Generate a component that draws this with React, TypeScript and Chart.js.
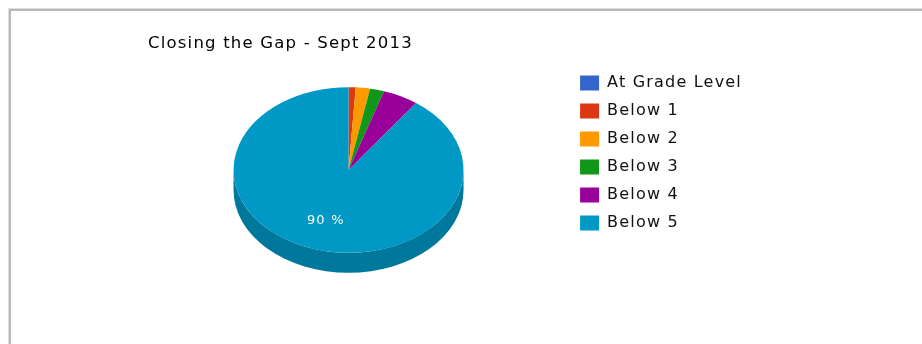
import React, { useEffect, useRef } from "react";
import { Chart, registerables } from "chart.js";

Chart.register(...registerables);

// ---- data ----
const titleText = "Closing the Gap - Sept 2013";
const categories = ["At Grade Level", "Below 1", "Below 2", "Below 3", "Below 4", "Below 5"];
const values = [0, 1, 2, 2, 5, 90];
const colors = ["#3366cc", "#dc3912", "#ff9900", "#109618", "#990099", "#0099c6"];
const sideColors = ["#24478f", "#9a280d", "#b36b00", "#0b6911", "#6b006b", "#00789c"];

// ---- look ----
const FONT = "'DejaVu Sans', sans-serif";
const LETTER_SPACING = "1.2px";
const TILT = 0.72; // vertical squash of the pie
const DEPTH = 20; // thickness of the 3D side
const LABEL_RADIUS = 0.64;
const LABEL_MIN_FRACTION = 0.08;
const AREA_GAP = 19; // space between pie area and legend

const setSpacing = (chart: any) => {
  try {
    (chart.ctx as any).letterSpacing = LETTER_SPACING;
  } catch (e) {}
};

const pie3d = {
  id: "pie3d",
  beforeUpdate(chart: any) {
    setSpacing(chart);
  },
  afterLayout(chart: any) {
    chart.chartArea.right -= AREA_GAP;
    chart.chartArea.width -= AREA_GAP;
  },
  beforeDraw(chart: any) {
    setSpacing(chart);
  },
  beforeDatasetsDraw(chart: any) {
    const arcs = chart.getDatasetMeta(0).data;
    const ctx = chart.ctx;
    ctx.save();
    if (!arcs.length) return;
    const a0 = arcs[0];
    const cx = a0.x;
    const cy = a0.y;
    const R = a0.outerRadius;
    const ry = R * TILT;
    arcs.forEach((arc: any, i: number) => {
      const s = arc.startAngle;
      const e = arc.endAngle;
      if (e - s <= 0) return;
      for (let k = -1; k <= 1; k++) {
        const lo = Math.max(s, 2 * Math.PI * k);
        const hi = Math.min(e, 2 * Math.PI * k + Math.PI);
        if (hi <= lo) continue;
        ctx.beginPath();
        ctx.ellipse(cx, cy, R, ry, 0, lo, hi);
        ctx.ellipse(cx, cy + DEPTH, R, ry, 0, hi, lo, true);
        ctx.closePath();
        ctx.fillStyle = sideColors[i];
        ctx.fill();
      }
    });
    ctx.translate(cx, cy);
    ctx.scale(1, TILT);
    ctx.translate(-cx, -cy);
  },
  afterDatasetsDraw(chart: any) {
    const ctx = chart.ctx;
    ctx.restore();
    const arcs = chart.getDatasetMeta(0).data;
    if (!arcs.length) return;
    const total = values.reduce((a, b) => a + b, 0);
    ctx.save();
    ctx.font = `13px ${FONT}`;
    ctx.fillStyle = "#ffffff";
    ctx.textAlign = "center";
    ctx.textBaseline = "middle";
    arcs.forEach((arc: any, i: number) => {
      const frac = values[i] / total;
      if (frac < LABEL_MIN_FRACTION) return;
      const mid = (arc.startAngle + arc.endAngle) / 2;
      const r = arc.outerRadius * LABEL_RADIUS;
      const x = arc.x + r * Math.cos(mid);
      const y = arc.y + r * TILT * Math.sin(mid);
      ctx.fillText(`${Math.round(frac * 100)} %`, x, y);
    });
    ctx.restore();
  },
};

export default function App() {
  const ref = useRef<HTMLCanvasElement | null>(null);

  useEffect(() => {
    if (!ref.current) return;
    const chart = new Chart(ref.current, {
      type: "pie",
      data: {
        labels: categories,
        datasets: [
          {
            data: values,
            backgroundColor: colors,
            borderWidth: 0,
            radius: 115,
            clip: false as any,
          } as any,
        ],
      },
      options: {
        responsive: false,
        animation: false,
        layout: { padding: { left: 148, top: 0, right: 170, bottom: 67 } },
        plugins: {
          title: {
            display: true,
            text: titleText,
            align: "start",
            color: "#000",
            font: { family: FONT, size: 16.5, weight: "normal" },
            padding: { top: 34.1, bottom: 9.1 },
          },
          legend: {
            display: true,
            position: "right",
            align: "start",
            fullSize: false,
            labels: {
              boxWidth: 19,
              boxHeight: 15,
              padding: 12,
              color: "#111",
              font: { family: FONT, size: 16 },
            },
          },
          tooltip: { enabled: false },
        },
      },
      plugins: [pie3d],
    });
    return () => chart.destroy();
  }, []);

  return (
    <div style={{ position: "fixed", left: 0, top: 0, width: 922, height: 344, background: "#fff", overflow: "hidden" }}>
      <div
        style={{
          position: "absolute",
          left: 9,
          top: 9,
          width: 940,
          height: 360,
          borderLeft: "2px solid #b8b8b8",
          borderTop: "2px solid #b8b8b8",
          boxShadow: "-1px -1px 0 #dedede",
        }}
      />
      <canvas ref={ref} width={922} height={344} style={{ position: "absolute", left: 0, top: 0 }} />
    </div>
  );
}
